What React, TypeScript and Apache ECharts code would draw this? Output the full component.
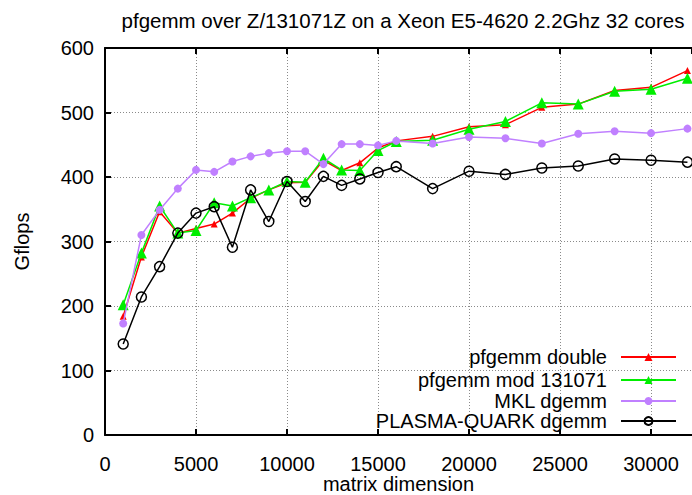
import React, { useEffect, useRef } from "react";
import * as echarts from "echarts";

const matrixSizes = [1000, 2000, 3000, 4000, 5000, 6000, 7000, 8000, 9000, 10000, 11000, 12000, 13000, 14000, 15000, 16000, 18000, 20000, 22000, 24000, 26000, 28000, 30000, 32000];
const pfgemmDouble = [184, 276, 346, 313, 320, 327, 344, 367, 380, 391, 392, 426, 410, 422, 445, 456, 463, 478, 481, 508, 513, 534, 539, 565];
const pfgemmMod = [202, 282, 355, 313, 317, 360, 355, 368, 380, 393, 392, 429, 411, 410, 441, 455, 457, 474, 486, 515, 513, 533, 536, 553];
const mklDgemm = [173, 310, 349, 382, 411, 408, 424, 432, 437, 440, 440, 420, 451, 451, 449, 456, 452, 462, 460, 452, 467, 471, 468, 475];
const plasmaQuark = [141, 214, 261, 313, 344, 354, 291, 380, 331, 393, 362, 401, 387, 397, 407, 416, 382, 409, 404, 414, 417, 428, 426, 423];

const seriesNames = ["pfgemm double", "pfgemm mod 131071", "MKL dgemm", "PLASMA-QUARK dgemm"];

const FONT = "'Liberation Sans', Arial, Helvetica, sans-serif";

function pairs(ys: number[]) {
  return matrixSizes.map((x, i) => [x, ys[i]]);
}

export default function App() {
  const ref = useRef<HTMLDivElement>(null);
  useEffect(() => {
    if (!ref.current) return;
    const chart = echarts.init(ref.current, undefined, { renderer: "svg" });
    const gridLine = { show: true, lineStyle: { color: "#8a8a8a", width: 1, type: [1, 2] as any } };
    const legendTops = [342, 365, 386, 406];
    const option: any = {
      animation: false,
      backgroundColor: "#ffffff",
      title: {
        text: "pfgemm over Z/131071Z on a Xeon E5-4620 2.2Ghz 32 cores",
        left: 398,
        top: 5,
        textAlign: "center",
        textStyle: { fontFamily: FONT, fontSize: 20.5, fontWeight: "normal", color: "#000" },
      },
      legend: seriesNames.map((n, i) => ({
        data: [n],
        right: 10,
        top: legendTops[i],
        align: "right",
        orient: "vertical",
        itemWidth: 55,
        itemHeight: 10,
        textStyle: { fontFamily: FONT, fontSize: 20, lineHeight: 20, color: "#000", padding: [0, 9, 0, 0] },
        selectedMode: false,
      })),
      grid: { left: 105, right: 0, top: 48, bottom: 60, containLabel: false, outerBoundsMode: "none" },
      xAxis: [
        {
          type: "value",
          min: 0,
          max: 32250,
          interval: 5000,
          name: "matrix dimension",
          nameLocation: "middle",
          nameGap: 39,
          nameMoveOverlap: false,
          nameTextStyle: { fontFamily: FONT, fontSize: 20, lineHeight: 20, color: "#000" },
          axisLine: { show: true, lineStyle: { color: "#000", width: 2 } },
          axisTick: { show: true, inside: true, length: 6, lineStyle: { color: "#000", width: 2 } },
          axisLabel: {
            fontFamily: FONT,
            fontSize: 20,
            lineHeight: 20,
            color: "#000",
            margin: 19,
            showMaxLabel: false,
            formatter: (v: number) => String(v),
          },
          splitLine: gridLine,
        },
        {
          type: "value",
          position: "top",
          min: 0,
          max: 32250,
          interval: 5000,
          axisLine: { show: true, lineStyle: { color: "#000", width: 2 } },
          axisTick: { show: true, inside: true, length: 6, lineStyle: { color: "#000", width: 2 } },
          axisLabel: { show: false },
          splitLine: { show: false },
        },
      ],
      yAxis: {
        type: "value",
        min: 0,
        max: 600,
        interval: 100,
        name: "Gflops",
        nameLocation: "middle",
        nameGap: 73,
        nameMoveOverlap: false,
        nameTextStyle: { fontFamily: FONT, fontSize: 20, color: "#000" },
        axisLine: { show: true, lineStyle: { color: "#000", width: 2 } },
        axisTick: { show: true, inside: true, length: 6, lineStyle: { color: "#000", width: 2 } },
        axisLabel: { fontFamily: FONT, fontSize: 20, color: "#000", margin: 11 },
        splitLine: gridLine,
      },
      series: [
        {
          name: seriesNames[0],
          type: "line",
          data: pairs(pfgemmDouble),
          symbol: "triangle",
          symbolSize: 7,
          itemStyle: { color: "#ff0000" },
          lineStyle: { color: "#ff0000", width: 1.5 },
          z: 2,
        },
        {
          name: seriesNames[1],
          type: "line",
          data: pairs(pfgemmMod),
          symbol: "triangle",
          symbolSize: 11,
          itemStyle: { color: "#00ee00" },
          lineStyle: { color: "#00ee00", width: 1.5 },
          z: 3,
        },
        {
          name: seriesNames[2],
          type: "line",
          data: pairs(mklDgemm),
          symbol: "circle",
          symbolSize: 8,
          itemStyle: { color: "#c080ff" },
          lineStyle: { color: "#c080ff", width: 1.5 },
          z: 4,
        },
        {
          name: seriesNames[3],
          type: "line",
          data: pairs(plasmaQuark),
          symbol: "circle",
          symbolSize: 10,
          itemStyle: { color: "rgba(0,0,0,0)", borderColor: "#000", borderWidth: 1.5 },
          lineStyle: { color: "#000", width: 1.5 },
          z: 5,
        },
      ],
    };
    chart.setOption(option);
    return () => chart.dispose();
  }, []);
  return <div ref={ref} style={{ position: "fixed", left: 0, top: 0, width: 692, height: 495 }} />;
}
